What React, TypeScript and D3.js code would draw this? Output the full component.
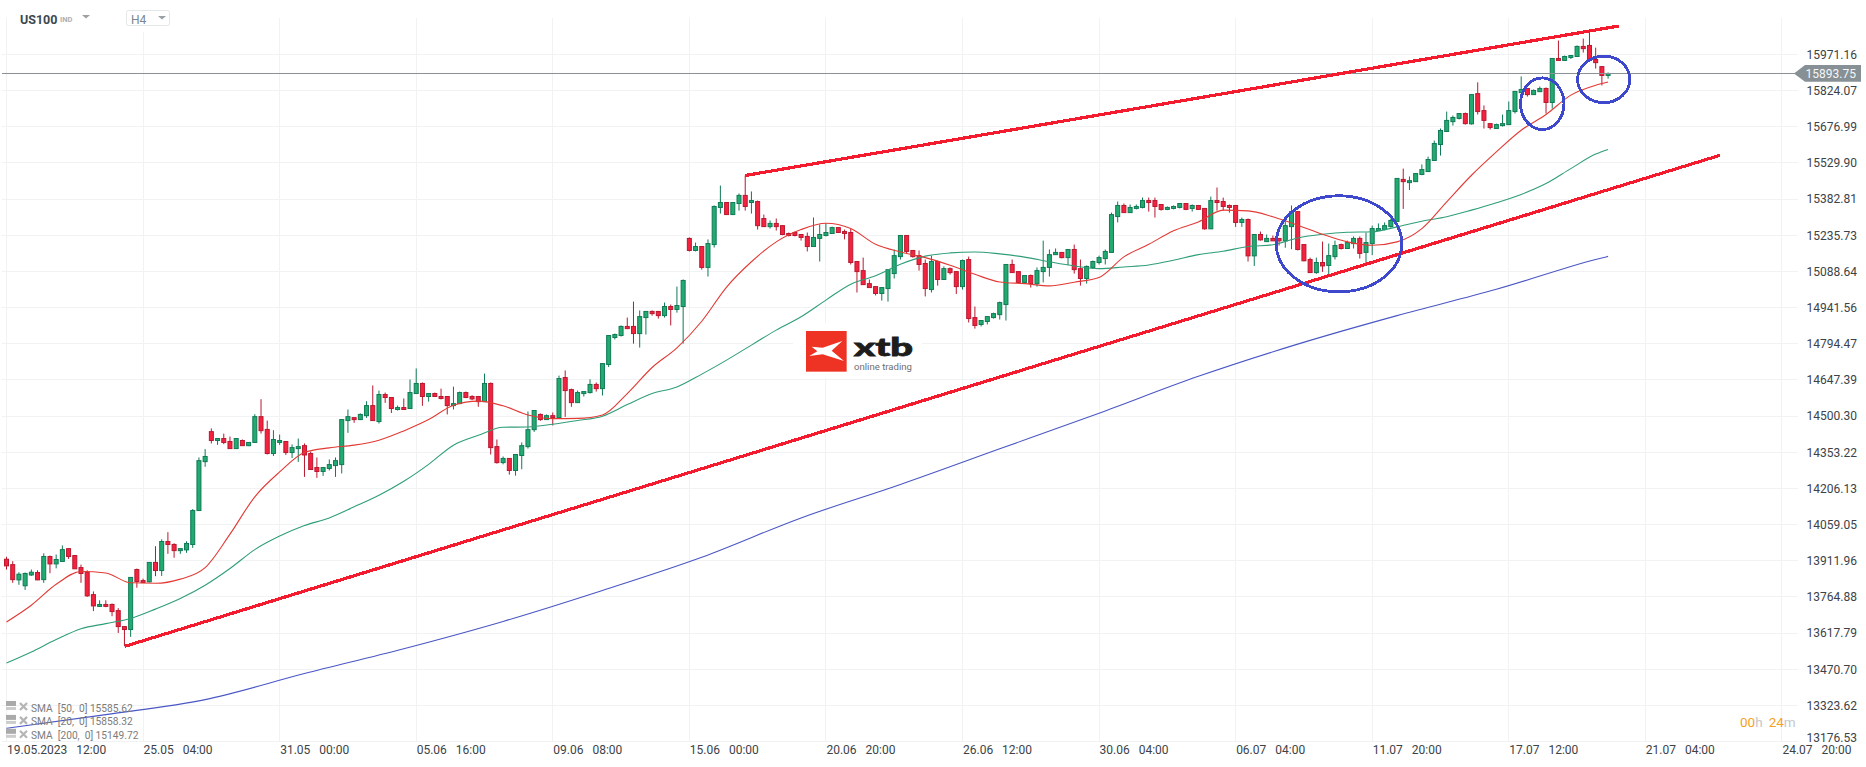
import React, { useEffect, useRef } from 'react';
import * as d3 from 'd3';

const WIDTH = 1866;
const HEIGHT = 767;

// US100 H4 candles
const opens = [
  13918,13896,13834,13810,13854,13864,13835,13929,13899,13909,
  13961,13933,13884,13865,13774,13726,13734,13734,13709,13644,
  13632,13876,13831,13826,13905,13872,13990,13978,13953,13956,
  13978,14116,14315,14437,14401,14409,14397,14368,14401,14380,
  14393,14498,14446,14348,14393,14397,14352,14368,14380,14348,
  14291,14275,14287,14299,14303,14482,14494,14486,14502,14543,
  14478,14588,14576,14527,14535,14531,14592,14633,14580,14592,
  14580,14580,14543,14551,14596,14580,14580,14559,14633,14376,
  14311,14328,14279,14340,14376,14445,14507,14486,14502,14494,
  14657,14608,14555,14592,14596,14629,14612,14710,14820,14828,
  14865,14865,14836,14901,14926,14926,14909,14946,14934,14946,
  15223,15174,15190,15105,15198,15349,15369,15320,15365,15398,
  15369,15373,15304,15271,15284,15275,15243,15247,15239,15231,
  15190,15223,15235,15243,15267,15251,15247,15129,15092,15039,
  15027,14999,15019,15080,15149,15235,15174,15153,15121,15015,
  15129,15056,15100,15088,15027,15137,14901,14873,14885,14901,
  14913,14954,15117,15088,15044,15072,15039,15088,15105,15157,
  15166,15145,15178,15100,15060,15105,15125,15141,15166,15312,
  15357,15328,15345,15349,15377,15377,15361,15341,15345,15349,
  15365,15345,15357,15345,15262,15377,15373,15357,15357,15288,
  15300,15152,15239,15210,15223,15223,15213,15271,15332,15198,
  15137,15084,15125,15113,15149,15198,15182,15202,15223,15166,
  15202,15255,15259,15271,15292,15463,15450,15454,15483,15495,
  15540,15605,15658,15698,15711,15731,15689,15812,15743,15690,
  15670,15682,15686,15739,15816,15833,15808,15820,15833,15776,
  15955,15947,15959,15963,16004,16008,15951,15922,15886,
];
const highs = [
  13928,13910,13865,13864,13876,13873,13942,13933,13937,13974,
  13961,13933,13896,13873,13787,13751,13751,13738,13719,13644,
  13844,13880,13839,13905,13971,13999,14028,13983,13961,13991,
  14122,14332,14366,14450,14409,14429,14417,14409,14405,14393,
  14508,14569,14482,14443,14425,14397,14385,14409,14389,14356,
  14332,14291,14324,14332,14486,14527,14494,14511,14561,14625,
  14604,14596,14576,14543,14572,14649,14694,14637,14592,14596,
  14612,14580,14620,14600,14600,14585,14580,14673,14637,14405,
  14336,14328,14344,14393,14519,14523,14511,14507,14515,14665,
  14686,14612,14604,14600,14650,14637,14714,14828,14836,14869,
  14901,14966,14930,14926,14930,14926,14962,14954,15027,15056,
  15227,15206,15190,15219,15357,15438,15369,15369,15406,15479,
  15414,15377,15320,15296,15304,15275,15247,15251,15239,15247,
  15308,15280,15284,15271,15267,15259,15263,15129,15145,15056,
  15027,15023,15096,15178,15235,15235,15174,15174,15137,15153,
  15133,15109,15105,15088,15137,15149,14946,14889,14905,14921,
  14966,15117,15137,15088,15072,15076,15105,15214,15178,15182,
  15166,15178,15198,15137,15113,15133,15153,15178,15328,15373,
  15365,15361,15361,15389,15389,15389,15361,15353,15357,15365,
  15365,15361,15357,15345,15393,15430,15389,15361,15357,15308,
  15304,15239,15251,15239,15235,15223,15312,15357,15332,15198,
  15145,15145,15210,15202,15214,15202,15214,15231,15231,15247,
  15275,15284,15288,15304,15467,15507,15475,15487,15524,15556,
  15621,15670,15739,15723,15731,15735,15808,15858,15764,15690,
  15690,15727,15780,15821,15882,15833,15829,15841,15837,15955,
  16028,15967,15967,16008,16036,16061,15999,15922,15898,
];
const lows = [
  13876,13822,13814,13793,13850,13833,13822,13861,13881,13909,
  13919,13879,13822,13765,13707,13724,13723,13686,13618,13564,
  13602,13802,13823,13823,13849,13850,13940,13924,13940,13944,
  13964,14116,14294,14389,14383,14386,14367,14367,14379,14378,
  14393,14429,14344,14338,14383,14342,14330,14314,14253,14283,
  14249,14257,14279,14253,14267,14432,14473,14484,14493,14482,
  14470,14554,14513,14523,14527,14531,14592,14542,14559,14578,
  14568,14507,14527,14549,14573,14565,14538,14559,14344,14307,
  14304,14262,14258,14284,14368,14436,14481,14485,14462,14493,
  14497,14538,14555,14580,14592,14600,14584,14700,14812,14824,
  14856,14795,14779,14832,14909,14897,14901,14869,14921,14795,
  15170,15170,15096,15068,15186,15324,15320,15318,15336,15336,
  15324,15259,15271,15263,15255,15236,15231,15231,15214,15170,
  15190,15129,15231,15243,15246,15219,15117,15003,15035,15023,
  14991,14970,14966,15060,15137,15162,15145,15092,14987,15003,
  15031,15056,15076,14997,15015,14881,14856,14865,14873,14897,
  14893,14889,15084,15039,15042,15023,15027,15044,15068,15157,
  15142,15114,15080,15031,15039,15100,15117,15117,15166,15288,
  15328,15327,15341,15345,15332,15308,15336,15338,15341,15345,
  15338,15332,15339,15259,15262,15336,15336,15328,15270,15270,
  15129,15111,15214,15209,15213,15194,15185,15179,15174,15130,
  15083,15079,15087,15076,15137,15178,15180,15182,15141,15121,
  15155,15254,15256,15267,15292,15343,15420,15453,15480,15494,
  15538,15560,15656,15682,15707,15686,15686,15727,15670,15666,
  15669,15678,15684,15731,15814,15800,15807,15819,15731,15751,
  15945,15945,15953,15962,15979,15947,15914,15845,15873,
];
const closes = [
  13891,13835,13857,13860,13865,13834,13929,13899,13917,13957,
  13929,13879,13860,13769,13728,13734,13726,13705,13644,13632,
  13844,13827,13823,13905,13872,13990,13978,13953,13961,13982,
  14116,14319,14336,14401,14409,14393,14368,14409,14380,14393,
  14498,14441,14348,14405,14401,14352,14372,14376,14342,14283,
  14275,14291,14303,14319,14486,14498,14486,14507,14543,14482,
  14588,14576,14531,14535,14527,14596,14633,14580,14592,14580,
  14572,14543,14551,14596,14576,14570,14559,14633,14372,14311,
  14328,14279,14344,14380,14445,14523,14486,14502,14494,14653,
  14604,14555,14596,14600,14629,14612,14714,14828,14832,14865,
  14856,14836,14905,14926,14917,14909,14946,14934,14950,15052,
  15174,15190,15105,15202,15353,15369,15320,15369,15398,15353,
  15377,15275,15271,15284,15271,15239,15235,15235,15227,15190,
  15227,15239,15247,15267,15247,15243,15125,15088,15035,15023,
  14999,15023,15096,15153,15235,15170,15149,15117,15019,15129,
  15056,15100,15084,15027,15133,14897,14869,14889,14905,14917,
  14962,15117,15084,15044,15072,15039,15092,15105,15157,15166,
  15145,15178,15096,15060,15109,15129,15145,15170,15320,15357,
  15328,15349,15353,15377,15369,15353,15341,15349,15353,15365,
  15341,15357,15341,15262,15377,15369,15353,15349,15288,15300,
  15152,15239,15217,15223,15213,15213,15275,15332,15178,15132,
  15084,15125,15111,15153,15194,15182,15206,15223,15162,15206,
  15263,15263,15275,15296,15467,15454,15458,15487,15503,15544,
  15609,15662,15703,15715,15731,15690,15808,15739,15703,15674,
  15686,15690,15743,15821,15829,15808,15825,15833,15776,15955,
  15947,15963,15967,16004,15995,15947,15938,15886,15894,
];

// moving averages, read every 4th candle
const smaBars = [
  0,4,8,12,16,20,24,28,32,36,40,44,48,52,56,60,64,68,72,76,80,84,88,92,96,100,
  104,108,112,116,120,124,128,132,136,140,144,148,152,156,160,164,168,172,176,
  180,184,188,192,196,200,204,208,212,216,220,224,228,232,236,240,244,248,252,256,258,
];
const sma20 = [
  13663,13731,13816,13868,13862,13822,13820,13837,13884,14020,14172,14273,14352,14371,14382,14402,
  14440,14486,14544,14561,14542,14505,14490,14491,14505,14592,14698,14778,14886,15025,15128,15209,
  15259,15285,15263,15199,15168,15145,15114,15077,15046,15039,15030,15045,15064,15148,15199,15254,
  15290,15338,15335,15311,15277,15240,15209,15195,15209,15263,15372,15480,15575,15663,15727,15806,15846,15859,
];
const sma50 = [
  13496,13541,13591,13635,13656,13677,13715,13758,13812,13880,13957,14012,14055,14086,14131,14178,
  14235,14304,14382,14422,14455,14456,14467,14482,14500,14547,14592,14619,14671,14728,14789,14850,
  14904,14972,15037,15071,15118,15151,15164,15168,15160,15147,15128,15111,15100,15107,15115,15134,
  15157,15171,15190,15197,15225,15240,15248,15250,15270,15293,15311,15338,15368,15402,15446,15507,15566,15585,
];
const sma200Bars = [0,16,32,48,64,80,96,112,128,144,160,176,192,208,224,240,256,258];
const sma200 = [
  13230,13286,13347,13453,13554,13665,13791,13926,14086,14222,14367,14512,14662,14793,14909,15016,15137,15150,
];

// price axis ticks as printed on the right side
const priceTicks = [
  15971.16,15824.07,15676.99,15529.90,15382.81,15235.73,15088.64,14941.56,14794.47,14647.39,
  14500.30,14353.22,14206.13,14059.05,13911.96,13764.88,13617.79,13470.70,13323.62,13176.53,
];
const timeLabels = [
  '19.05.2023 12:00','25.05 04:00','31.05 00:00','05.06 16:00','09.06 08:00','15.06 00:00','20.06 20:00',
  '26.06 12:00','30.06 04:00','06.07 04:00','11.07 20:00','17.07 12:00','21.07 04:00','24.07 20:00',
];
const lastPrice = 15893.75;

const legendRows = ['SMA  [50,  0] 15585.62', 'SMA  [20,  0] 15858.32', 'SMA  [200,  0] 15149.72'];

// hand drawn channel lines: [bar, price]
const upperTrend: [number, number][] = [[119, 15479], [259.7, 16087]];
const lowerTrend: [number, number][] = [[19.1, 13564], [276, 15561]];
// hand drawn circles: bar, price, rx, ry
const circleBars = [214.65, 247.4, 257.3];
const circlePrices = [15201, 15771, 15870];
const circleRx = [62.8, 21.7, 26.1];
const circleRy = [48, 25.8, 23.3];

const UP = '#22aa70';
const UP_EDGE = '#0f7a55';
const DOWN = '#f5223f';
const DOWN_EDGE = '#b8182f';
const TEXT = '#3b4348';
const GRID = '#f1f2f3';

const App: React.FC = () => {
  const svgRef = useRef<SVGSVGElement>(null);

  useEffect(() => {
    if (!svgRef.current) return;
    const svg = d3.select(svgRef.current);
    svg.selectAll('*').remove();

    const x = d3.scaleLinear().domain([0, 22]).range([6.5, 143.07]);
    const y = d3.scaleLinear().domain([13176.53, 15971.16]).range([741.5, 54.5]);
    const barOf = (k: number) => k * 22;

    // grid
    const grid = svg.append('g').attr('stroke', GRID).attr('stroke-width', 1);
    priceTicks.forEach((p) => {
      const py = Math.floor(y(p)) + 0.5;
      grid.append('line').attr('x1', 2).attr('x2', 1798).attr('y1', py).attr('y2', py);
    });
    timeLabels.forEach((_, k) => {
      const px = Math.floor(x(barOf(k))) + 0.5;
      grid.append('line').attr('x1', px).attr('x2', px).attr('y1', 18).attr('y2', 741.5);
    });

    // white patches behind toolbar and logo
    svg.append('rect').attr('x', 126).attr('y', 10).attr('width', 44).attr('height', 22).attr('fill', '#fff');
    svg.append('rect').attr('x', 793).attr('y', 323).attr('width', 129).attr('height', 55).attr('fill', '#fff');

    // logo
    const logo = svg.append('g').attr('transform', 'translate(780,310) scale(0.3333)');
    logo.append('rect').attr('x', 78).attr('y', 63).attr('width', 122).attr('height', 122).attr('fill', '#ee3224');
    logo.append('path')
      .attr('d', 'M95,110 L128,113 L187,93 L155,122 L192,153 L128,133 L88,138 L112,124 Z')
      .attr('fill', '#fff');
    svg.append('text').attr('x', 854).attr('y', 356).attr('font-family', 'Lato, Roboto, sans-serif')
      .attr('font-weight', 900).attr('font-size', 25).attr('fill', '#1d1d1b')
      .attr('stroke', '#1d1d1b').attr('stroke-width', 0.8)
      .attr('textLength', 59).attr('lengthAdjust', 'spacingAndGlyphs').text('xtb');
    svg.append('text').attr('x', 854).attr('y', 370).attr('font-family', 'Roboto, sans-serif')
      .attr('font-size', 9.5).attr('fill', '#6f6f6f')
      .attr('textLength', 58).attr('lengthAdjust', 'spacingAndGlyphs').text('online trading');

    // candles
    const bars = d3.range(closes.length);
    const candles = svg.append('g');
    candles.selectAll('line.wick').data(bars).enter().append('line')
      .attr('class', 'wick')
      .attr('x1', (d) => x(d)).attr('x2', (d) => x(d))
      .attr('y1', (d) => y(highs[d])).attr('y2', (d) => y(lows[d]))
      .attr('stroke', (d) => (closes[d] < opens[d] ? DOWN_EDGE : UP_EDGE))
      .attr('stroke-width', 1);
    candles.selectAll('rect.body').data(bars).enter().append('rect')
      .attr('class', 'body')
      .attr('x', (d) => x(d) - 2)
      .attr('width', 4)
      .attr('y', (d) => y(Math.max(opens[d], closes[d])))
      .attr('height', (d) => Math.max(1, Math.abs(y(opens[d]) - y(closes[d]))))
      .attr('fill', (d) => (closes[d] < opens[d] ? DOWN : UP))
      .attr('stroke', (d) => (closes[d] < opens[d] ? DOWN_EDGE : UP_EDGE))
      .attr('stroke-width', 1);

    // moving averages
    const line = d3.line<[number, number]>()
      .x((d) => x(d[0]))
      .y((d) => y(d[1]))
      .curve(d3.curveMonotoneX);
    const drawSma = (idx: number[], vals: number[], colour: string) => {
      svg.append('path')
        .attr('d', line(idx.map((b, i) => [b, vals[i]] as [number, number])) as string)
        .attr('fill', 'none')
        .attr('stroke', colour)
        .attr('stroke-width', 1.1);
    };
    drawSma(smaBars, sma50, '#2f9e78');
    drawSma(smaBars, sma20, '#e23a35');
    drawSma(sma200Bars, sma200, '#4a57c4');

    // last price line
    const lastY = Math.floor(y(lastPrice)) + 0.5;
    svg.append('line').attr('x1', 2).attr('x2', 1795).attr('y1', lastY).attr('y2', lastY)
      .attr('stroke', '#8a9296').attr('stroke-width', 1);

    // channel
    [upperTrend, lowerTrend].forEach((t) => {
      svg.append('line')
        .attr('x1', x(t[0][0])).attr('y1', y(t[0][1]))
        .attr('x2', x(t[1][0])).attr('y2', y(t[1][1]))
        .attr('stroke', '#f31c2e').attr('stroke-width', 3.2)
        .attr('shape-rendering', 'crispEdges');
    });

    // circles
    circleBars.forEach((b, i) => {
      svg.append('ellipse')
        .attr('cx', x(b)).attr('cy', y(circlePrices[i]))
        .attr('rx', circleRx[i]).attr('ry', circleRy[i])
        .attr('fill', 'none').attr('stroke', '#3e48cc').attr('stroke-width', 2.9)
        .attr('shape-rendering', 'crispEdges');
    });

    // price axis
    const yAxis = svg.append('g')
      .attr('transform', 'translate(1806.5,0)')
      .call(d3.axisRight(y).tickValues(priceTicks).tickSize(0).tickPadding(0).tickFormat((d) => (d as number).toFixed(2)));
    yAxis.select('.domain').remove();
    yAxis.selectAll('text')
      .attr('font-family', 'Roboto, sans-serif').attr('font-size', 12).attr('fill', TEXT)
      .attr('dy', (d) => ((d as number) === 13176.53 ? '-0.0em' : '0.32em'));

    // time axis
    const xAxis = svg.append('g')
      .attr('transform', 'translate(0,745)')
      .call(d3.axisBottom(x).tickValues(timeLabels.map((_, k) => barOf(k))).tickSize(0).tickPadding(0)
        .tickFormat((_, k) => timeLabels[k]));
    xAxis.select('.domain').remove();
    xAxis.selectAll('text')
      .attr('font-family', 'Roboto, sans-serif').attr('font-size', 12).attr('fill', TEXT)
      .attr('text-anchor', 'start').attr('y', 0).attr('dy', '0.72em')
      .style('word-spacing', '6px');

    // price tag
    svg.append('path').attr('d', `M1794,${lastY} L1805,65 L1861,65 L1861,81.7 L1805,81.7 Z`).attr('fill', '#869095');
    svg.append('text').attr('x', 1805.5).attr('y', lastY + 4.2).attr('font-family', 'Roboto, sans-serif')
      .attr('font-size', 12).attr('fill', '#f5f7f8').text(lastPrice.toFixed(2));

    // legend
    legendRows.forEach((t, i) => {
      const cy = 708 + i * 13.9;
      const row = svg.append('g');
      row.append('rect').attr('x', 6).attr('y', cy - 7).attr('width', 10).attr('height', 5).attr('fill', '#aaaaaa');
      row.append('rect').attr('x', 6).attr('y', cy - 1).attr('width', 10).attr('height', 3).attr('fill', '#cccccc');
      row.append('path').attr('d', `M20,${cy - 5} L27,${cy + 2} M27,${cy - 5} L20,${cy + 2}`)
        .attr('stroke', '#b5b5b5').attr('stroke-width', 2.2);
      row.append('text').attr('x', 31).attr('y', cy + 3.5).attr('font-family', 'Roboto, sans-serif')
        .attr('font-size', 10.2).attr('fill', '#7c7c7c').style('white-space', 'pre').text(t);
    });

    // countdown
    const timer = svg.append('text').attr('x', 1740).attr('y', 727).attr('font-family', 'Roboto, sans-serif').attr('font-size', 13.5);
    timer.append('tspan').attr('fill', '#f7a023').text('00');
    timer.append('tspan').attr('fill', '#c4c7c9').text('h');
    timer.append('tspan').attr('fill', '#f7a023').attr('dx', 6).text('24');
    timer.append('tspan').attr('fill', '#c4c7c9').text('m');

    // toolbar
    svg.append('text').attr('x', 20).attr('y', 23.5).attr('font-family', 'Roboto, sans-serif')
      .attr('font-weight', 700).attr('font-size', 12.5).attr('fill', '#3c4850').text('US100');
    svg.append('text').attr('x', 60).attr('y', 22).attr('font-family', 'Roboto, sans-serif')
      .attr('font-weight', 700).attr('font-size', 7.5).attr('fill', '#aab0b4').text('IND');
    svg.append('path').attr('d', 'M82,15 L90,15 L86,18.5 Z').attr('fill', '#9aa0a4');
    svg.append('rect').attr('x', 126.5).attr('y', 10.5).attr('width', 43).attr('height', 15).attr('rx', 2)
      .attr('fill', '#fff').attr('stroke', '#e4e7e8');
    svg.append('text').attr('x', 131).attr('y', 24).attr('font-family', 'Roboto, sans-serif')
      .attr('font-size', 12).attr('fill', '#7a8790').text('H4');
    svg.append('path').attr('d', 'M158,16 L166,16 L162,19.5 Z').attr('fill', '#9aa0a4');
  }, []);

  return (
    <svg
      ref={svgRef}
      width={WIDTH}
      height={HEIGHT}
      style={{ position: 'fixed', left: 0, top: 0, background: '#fff' }}
    />
  );
};

export default App;
